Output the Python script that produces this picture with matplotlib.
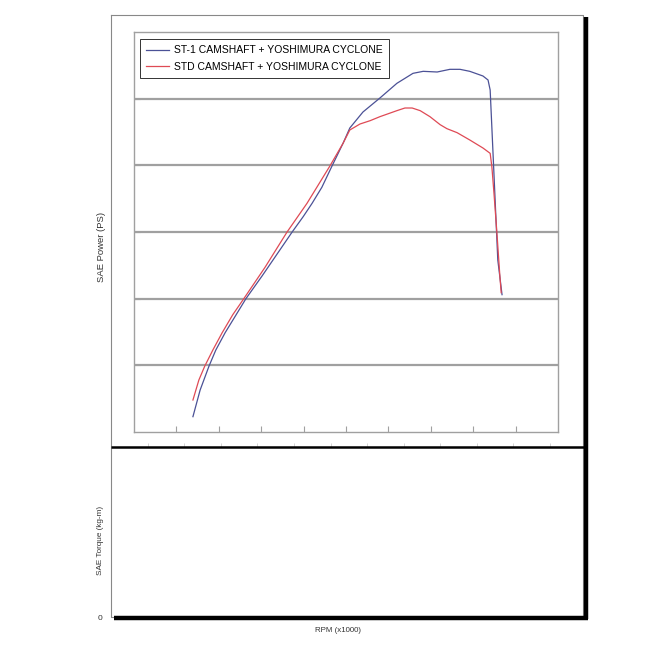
import matplotlib
matplotlib.use("Agg")
import matplotlib.pyplot as plt
from matplotlib.lines import Line2D

plt.rcParams['font.family'] = ['Liberation Sans', 'DejaVu Sans']

# ---- data (x in RPM grid units, y in power grid units) ----
st1_rpm = [1.39, 1.56, 1.77, 1.93, 2.15, 2.41, 2.64, 3.02, 3.44, 3.73, 3.99, 4.20, 4.43,
           4.67, 4.93, 5.09, 5.40, 5.80, 6.20, 6.58, 6.82, 7.15, 7.45, 7.69, 7.92, 8.23,
           8.35, 8.40, 8.44, 8.51, 8.58, 8.68]
st1_power = [0.23, 0.63, 0.99, 1.23, 1.49, 1.76, 2.00, 2.34, 2.73, 3.00, 3.23, 3.43, 3.67,
             3.99, 4.33, 4.56, 4.80, 5.01, 5.23, 5.38, 5.41, 5.40, 5.44, 5.44, 5.41, 5.34,
             5.28, 5.13, 4.57, 3.58, 2.58, 2.06]
std_rpm = [1.39, 1.53, 1.67, 1.86, 2.08, 2.33, 2.59, 3.09, 3.61, 4.08, 4.62, 4.93, 5.09,
           5.33, 5.57, 5.80, 6.20, 6.39, 6.56, 6.75, 6.98, 7.22, 7.38, 7.62, 7.92, 8.23,
           8.40, 8.44, 8.49, 8.56, 8.63, 8.66]
std_power = [0.48, 0.78, 0.99, 1.23, 1.49, 1.76, 2.00, 2.47, 3.00, 3.43, 3.99, 4.33, 4.53,
             4.62, 4.67, 4.73, 4.82, 4.86, 4.86, 4.82, 4.73, 4.61, 4.55, 4.49, 4.38, 4.26,
             4.18, 3.98, 3.58, 2.98, 2.33, 2.09]
series_labels = ["ST-1 CAMSHAFT + YOSHIMURA CYCLONE", "STD CAMSHAFT + YOSHIMURA CYCLONE"]
series_colors = ['#4b5196', '#df4a55']

W = H = 670.0
fig = plt.figure(figsize=(6.7, 6.7), dpi=100)

def fx(px):
    return px / W

def fy(py):
    return 1 - py / H

# ---- outer frame and shadow ----
fig.add_artist(Line2D([fx(111), fx(583), fx(583), fx(111), fx(111)],
                      [fy(15), fy(15), fy(617), fy(617), fy(15)],
                      color='#888888', lw=0.8, transform=fig.transFigure))
fig.add_artist(Line2D([fx(585.5), fx(585.5)], [fy(17), fy(619)], color='black', lw=3.2,
                      transform=fig.transFigure, solid_capstyle='butt'))
fig.add_artist(Line2D([fx(114), fx(587.5)], [fy(617.5), fy(617.5)], color='black', lw=3.2,
                      transform=fig.transFigure, solid_capstyle='butt'))
fig.add_artist(Line2D([fx(111), fx(584)], [fy(447), fy(447)], color='black', lw=1.8,
                      transform=fig.transFigure, solid_capstyle='butt'))

# ---- torque (lower) axes ----
axt = fig.add_axes([fx(111), fy(617), (583 - 111) / W, (617 - 447) / H])
axt.set_xlim(0, 12.9)
axt.set_ylim(0, 1)
for s in axt.spines.values():
    s.set_visible(False)
axt.set_xticks(range(1, 13))
axt.tick_params(axis='x', which='both', bottom=False, top=True, labelbottom=False,
                direction='out', length=3, color='#cccccc', width=0.6)
axt.set_yticks([0])
axt.set_yticklabels(['0'])
axt.tick_params(axis='y', length=0, pad=6, labelsize=6, labelcolor='#333333')
axt.patch.set_visible(False)

# ---- power (upper) axes ----
ax = fig.add_axes([fx(134), fy(432), (558 - 134) / W, (432 - 32) / H])
ax.set_xlim(0, 10)
ax.set_ylim(0, 6)
for s in ax.spines.values():
    s.set_color('#a0a0a0')
    s.set_linewidth(1.0)
for yv in range(1, 6):
    ax.axhline(yv, color='#a0a0a0', lw=1.6, zorder=1)
ax.set_xticks(range(1, 10))
ax.set_yticks(range(1, 6))
ax.tick_params(direction='in', length=4, color='#a0a0a0', width=0.8,
               labelbottom=False, labelleft=False)

for xs, ys, lab, col in zip([st1_rpm, std_rpm], [st1_power, std_power],
                            series_labels, series_colors):
    ax.plot(xs, ys, color=col, lw=0.9, label=lab, zorder=3)

leg = ax.legend(loc='upper left', bbox_to_anchor=((140 - 134) / 424, (432 - 39) / 400),
                frameon=True, fancybox=False, edgecolor='#333333', framealpha=1,
                fontsize=7.5, handlelength=2.2, handletextpad=0.45, borderpad=0.6,
                labelspacing=0.6, borderaxespad=0)
leg.get_frame().set_linewidth(0.7)

# ---- labels ----
fig.text(fx(101.5), fy(247), 'SAE Power (PS)', rotation=90, ha='center', va='center',
         fontsize=6.8, color='#333333')
fig.text(fx(101), fy(540), 'SAE Torque (kg-m)', rotation=90, ha='center', va='center',
         fontsize=5.9, color='#333333')
fig.text(fx(338), fy(631), 'RPM (x1000)', ha='center', va='center', fontsize=5.7,
         color='#333333')

fig.savefig('out.png', dpi=100, facecolor='white')
